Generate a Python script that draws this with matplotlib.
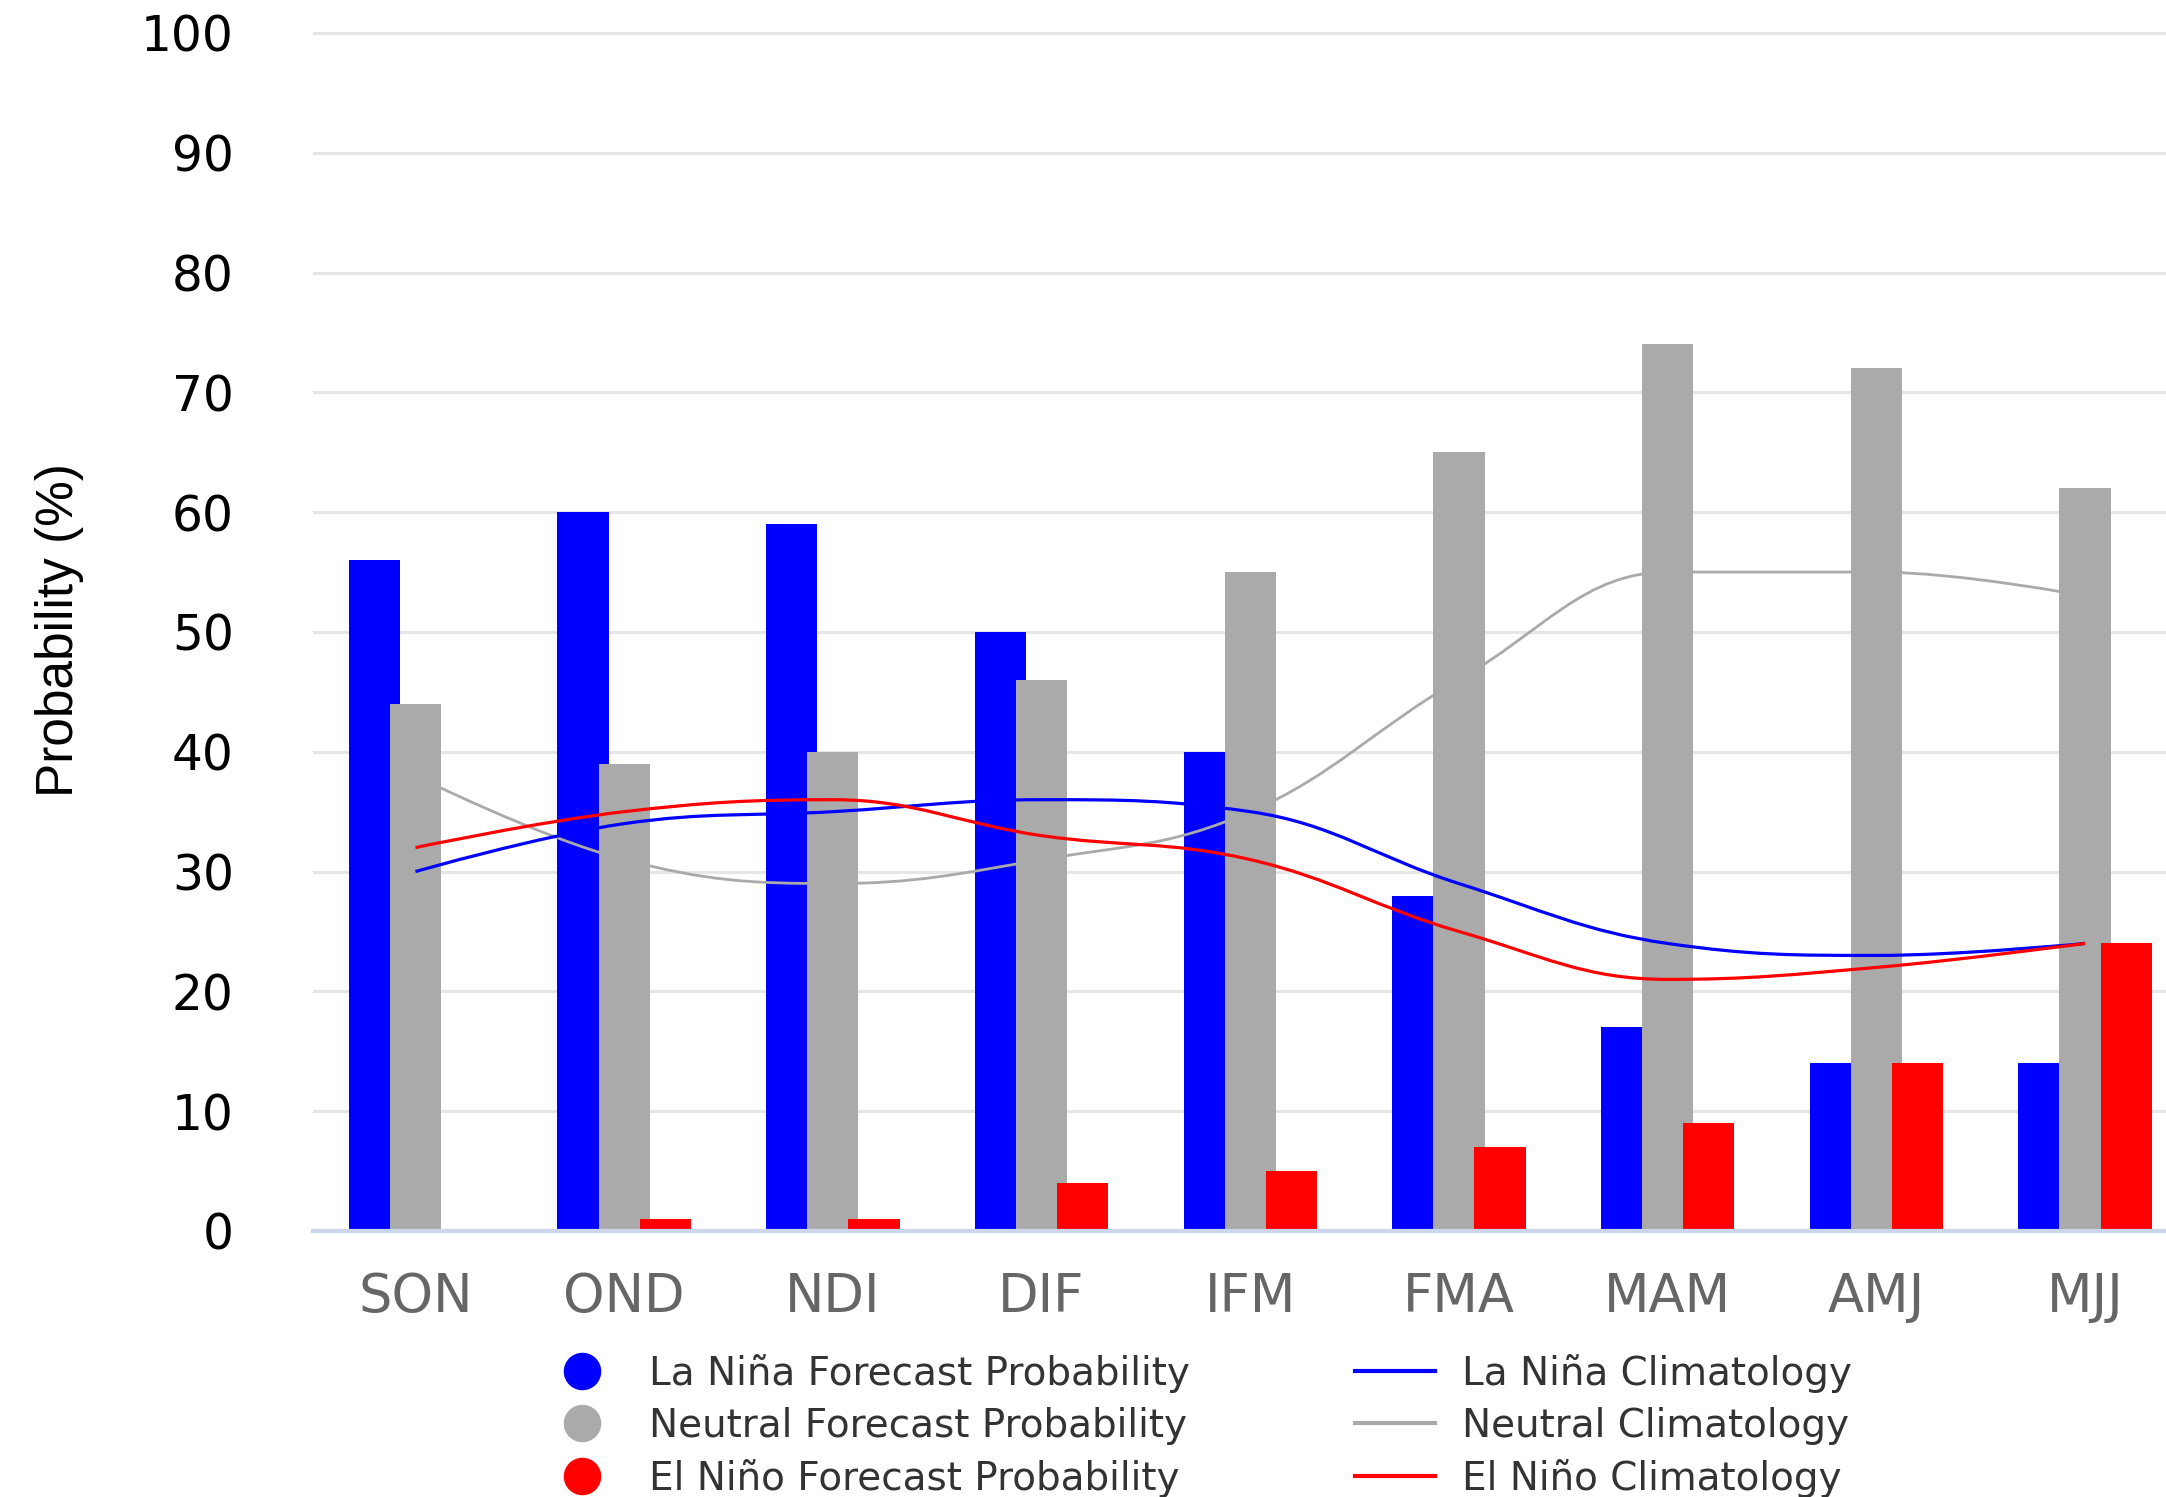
import numpy as np
import matplotlib.pyplot as plt
from matplotlib.path import Path
from matplotlib.patches import PathPatch
from matplotlib.lines import Line2D

seasons = ['SON', 'OND', 'NDI', 'DIF', 'IFM', 'FMA', 'MAM', 'AMJ', 'MJJ']

# forecast probabilities (%)
la_nina = [56, 60, 59, 50, 40, 28, 17, 14, 14]
neutral = [44, 39, 40, 46, 55, 65, 74, 72, 62]
el_nino = [0, 1, 1, 4, 5, 7, 9, 14, 24]

# climatology (%)
la_nina_clim = [30, 34, 35, 36, 35, 29, 24, 23, 24]
neutral_clim = [38, 31, 29, 31, 35, 46, 55, 55, 53]
el_nino_clim = [32, 35, 36, 33, 31, 25, 21, 22, 24]

BLUE = '#0000ff'
GRAY = '#aaaaaa'
RED = '#ff0000'


def spline_path(xs, ys, smoothing=1.5):
    # same kind of smoothed bezier as a highcharts "spline" series
    n = len(xs)
    denom = smoothing + 1
    left = [None] * n
    right = [None] * n
    for i in range(n):
        x, y = xs[i], ys[i]
        lx, ly, rx, ry = x, y, x, y
        if 0 < i < n - 1:
            px, py = xs[i - 1], ys[i - 1]
            nx, ny = xs[i + 1], ys[i + 1]
            lx = (smoothing * x + px) / denom
            ly = (smoothing * y + py) / denom
            rx = (smoothing * x + nx) / denom
            ry = (smoothing * y + ny) / denom
            corr = (ry - ly) * (rx - x) / (rx - lx) + y - ry
            ly += corr
            ry += corr
            if ly > py and ly > y:
                ly = max(py, y)
                ry = 2 * y - ly
            elif ly < py and ly < y:
                ly = min(py, y)
                ry = 2 * y - ly
            if ry > ny and ry > y:
                ry = max(ny, y)
                ly = 2 * y - ry
            elif ry < ny and ry < y:
                ry = min(ny, y)
                ly = 2 * y - ry
        left[i] = (lx, ly)
        right[i] = (rx, ry)
    verts = [(xs[0], ys[0])]
    codes = [Path.MOVETO]
    for i in range(1, n):
        verts += [right[i - 1], left[i], (xs[i], ys[i])]
        codes += [Path.CURVE4] * 3
    return Path(verts, codes)


fig = plt.figure(figsize=(21.66, 14.97), dpi=100)
ax = fig.add_axes([0.1445, 0.1777, 0.8555, 0.8083])

x = np.arange(len(seasons))
width = 0.245
offset = 0.197

ax.bar(x - offset, la_nina, width, color=BLUE, zorder=2)
ax.bar(x, neutral, width, color=GRAY, zorder=2.1)
ax.bar(x + offset, el_nino, width, color=RED, zorder=2.2)

for vals, c, lw in [(neutral_clim, GRAY, 2.0), (la_nina_clim, BLUE, 2.3), (el_nino_clim, RED, 2.3)]:
    ax.add_patch(PathPatch(spline_path(list(x), vals), facecolor='none', edgecolor=c, lw=lw, zorder=3))

ax.set_xlim(-0.491, 8.388)
ax.set_ylim(0, 101)
ax.set_yticks(np.arange(0, 101, 10))
ax.set_xticks(x)
ax.set_xticklabels(seasons)

ax.set_axisbelow(True)
ax.yaxis.grid(True, color='#e6e6e6', lw=2.2)
for s in ['top', 'right', 'left']:
    ax.spines[s].set_visible(False)
ax.spines['bottom'].set_color('#ccd6eb')
ax.spines['bottom'].set_linewidth(3)

ax.tick_params(axis='y', length=0, pad=57, labelsize=35, labelcolor='black')
ax.tick_params(axis='x', length=0, pad=29, labelsize=38, labelcolor='#666666')

ax.set_ylabel('Probability (%)', fontsize=37, family=['Liberation Sans', 'DejaVu Sans'])
ax.yaxis.set_label_coords(-0.137, 0.497)
ax.yaxis.label.set_va('center')

# legend, two columns
bar_handles = [Line2D([], [], ls='none', marker='o', ms=26, mfc=c, mec=c) for c in (BLUE, GRAY, RED)]
bar_labels = ['La Niña Forecast Probability', 'Neutral Forecast Probability', 'El Niño Forecast Probability']
line_handles = [Line2D([], [], color=c, lw=3) for c in (BLUE, GRAY, RED)]
line_labels = ['La Niña Climatology', 'Neutral Climatology', 'El Niño Climatology']

leg_kw = dict(loc='center left', frameon=False, fontsize=28, handlelength=2.06, handletextpad=0.7,
              labelspacing=0.36, borderpad=0, borderaxespad=0, labelcolor='#333333')
ymid = 1 - 1425.6 / 1497
fig.legend(bar_handles, bar_labels, bbox_to_anchor=(542 / 2166, ymid), **leg_kw)
fig.legend(line_handles, line_labels, bbox_to_anchor=(1355 / 2166, ymid), **leg_kw)

fig.savefig('out.png', dpi=100)
